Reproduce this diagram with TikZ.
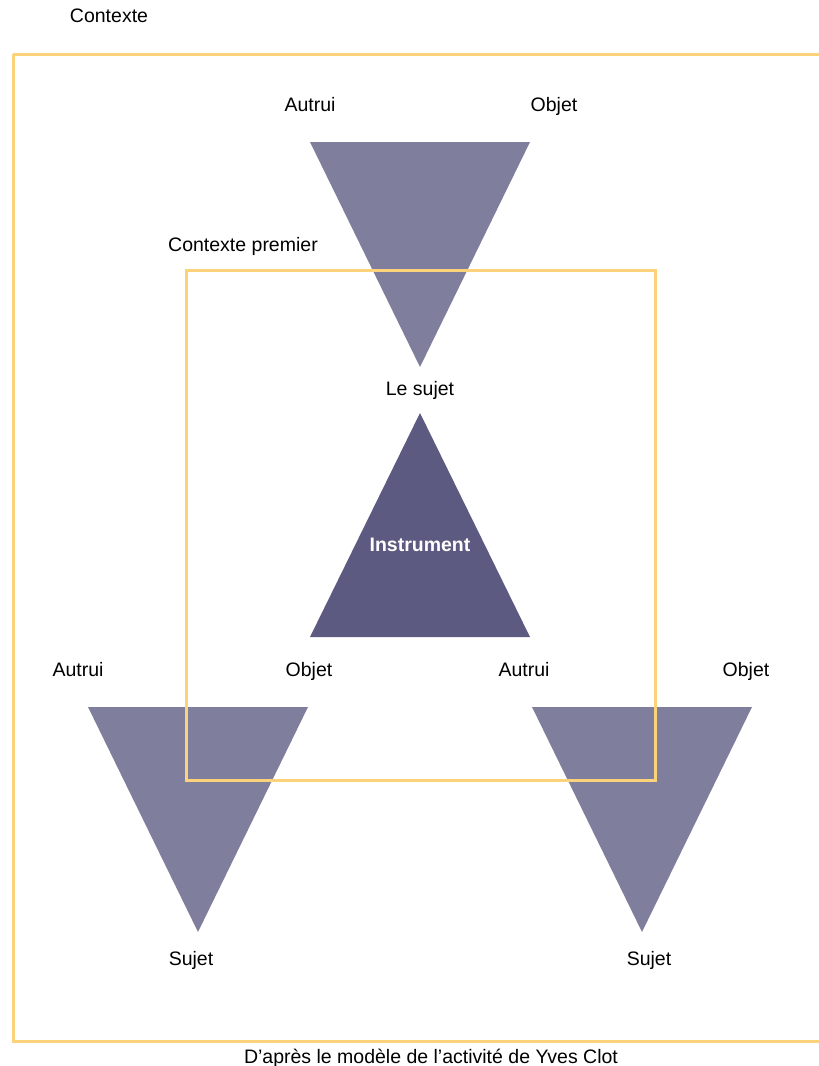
\documentclass[tikz,border=0pt]{standalone}
\usepackage{fontspec}
\setmainfont{Liberation Sans}
\definecolor{ctxyellow}{RGB}{252,211,122}
\definecolor{trilight}{RGB}{127,127,157}
\definecolor{tridark}{RGB}{92,90,128}
\begin{document}
\begin{tikzpicture}[x=1pt,y=-1pt,
  lbl/.style={inner sep=0pt,font=\fontsize{19.5}{24}\selectfont,text=black,text height=0.72em,text depth=0pt,yshift=-3pt},
  frame/.style={draw=ctxyellow,line width=3pt},
  lighttri/.style={fill=trilight,draw=none},
  darktri/.style={fill=tridark,draw=none}]
\useasboundingbox (0,0) rectangle (819,1066);
% triangles
\fill[lighttri] (310,142) -- (530,142) -- (420,367) -- cycle;
\fill[darktri] (420,413) -- (530,637) -- (310,637) -- cycle;
\fill[lighttri] (88,707) -- (308,707) -- (198,932) -- cycle;
\fill[lighttri] (532,707) -- (752,707) -- (642,932) -- cycle;
% frames
\draw[frame] (13,54) -- (830,54);
\draw[frame] (830,1041) -- (13,1041) -- (13,54);
\draw[frame] (186,270) rectangle (655,780);
% labels
\node[lbl] (ctx) at (109,16) {Contexte};
\node[lbl] (ctxp) at (243,245) {Contexte premier};
\node[lbl] (t1a) at (310,105) {Autrui};
\node[lbl] (t1o) at (554,105) {Objet};
\node[lbl] (t1s) at (420,389) {Le sujet};
\node[lbl,text=white,font=\fontsize{19.5}{24}\selectfont\bfseries] (instr) at (420,545) {Instrument};
\node[lbl] (t2a) at (78,670) {Autrui};
\node[lbl] (t2o) at (309,670) {Objet};
\node[lbl] (t3a) at (524,670) {Autrui};
\node[lbl] (t3o) at (746,670) {Objet};
\node[lbl] (t2s) at (191,959) {Sujet};
\node[lbl] (t3s) at (649,959) {Sujet};
\node[lbl] (src) at (431,1057) {D’après le modèle de l’activité de Yves Clot};
\end{tikzpicture}
\end{document}
